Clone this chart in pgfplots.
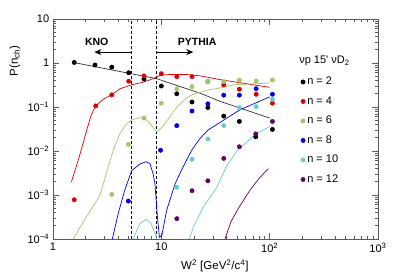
\documentclass[border=0pt]{standalone}
\usepackage{pgfplots}
\pgfplotsset{compat=1.18}
\usepackage{fontspec}
\setmainfont{Liberation Sans}
\usetikzlibrary{arrows.meta}
\definecolor{cred}{RGB}{222,0,0}
\definecolor{cgreen}{RGB}{153,204,102}
\definecolor{cblue}{RGB}{0,0,230}
\definecolor{ccyan}{RGB}{102,204,204}
\definecolor{cpurple}{RGB}{102,0,102}
\definecolor{frame}{RGB}{90,90,90}
\begin{document}
\fontsize{11}{13}\selectfont
\begin{tikzpicture}
\begin{axis}[
  name=ax,
  xmode=log, ymode=log,
  xmin=1, xmax=1000, ymin=1e-4, ymax=10,
  width=325pt, height=220pt, scale only axis,
  xtick={1,10,100,1000},
  xticklabels={1,10,10\textsuperscript{2},10\textsuperscript{3}},
  ytick={1e-4,1e-3,1e-2,1e-1,1,10},
  yticklabels={10\textsuperscript{−4},10\textsuperscript{−3},10\textsuperscript{−2},10\textsuperscript{−1},1,10},
  tick align=inside,
  major tick length=6pt, minor tick length=3pt,
  axis line style={frame, line width=0.8pt},
  every tick/.style={frame, line width=0.6pt},
  tick label style={font=\fontsize{11}{13}\selectfont},
  xlabel={W\textsuperscript{2} [GeV\textsuperscript{2}/c\textsuperscript{4}]},
  ylabel={P(n\textsubscript{ch})},
  xlabel style={at={(axis description cs:0.498,-0.123)}, anchor=center, font=\fontsize{11.5}{13}\selectfont},
  ylabel style={at={(axis description cs:-0.117,0.81)}, anchor=center, font=\fontsize{11.5}{13}\selectfont},
  legend style={draw=none, fill=none, at={(rel axis cs:0.762,0.745)}, anchor=north west,
     row sep=6.2pt, font=\fontsize{11}{13}\selectfont, inner sep=0pt},
  legend cell align=left,
  legend image code/.code={\draw[#1] plot coordinates {(0.12cm,0cm)};},
  clip=true,
]
% dashed separators
\addplot[black, dash pattern=on 3pt off 2pt, line width=0.5pt, forget plot] coordinates {(5.33,1e-4) (5.33,10)};
\addplot[black, dash pattern=on 3pt off 2pt, line width=0.5pt, forget plot] coordinates {(9.0,1e-4) (9.0,10)};

% curves
\addplot[black!80, line width=0.7pt, forget plot] coordinates {
(1.57,1.02) (4.16,0.64) (9.06,0.44) (22.8,0.206) (34.7,0.135) (100,0.056)};
\addplot[cred, line width=0.7pt, forget plot] coordinates {
(1.48,0.002) (1.75,0.0075) (2.05,0.03) (2.25,0.065) (2.44,0.1) (2.9,0.15) (3.49,0.19) (4.16,0.26)
(5.33,0.32) (6.9,0.37) (8.4,0.44) (9.7,0.52) (12,0.55) (17,0.55) (22.8,0.51) (34.7,0.42) (60,0.34) (100,0.28)};
\addplot[cgreen, line width=0.7pt, forget plot] coordinates {
(1.54,1e-4) (2.0,3e-4) (2.4,6e-4) (2.72,1e-3) (3.1,3e-3) (3.6,0.0105) (4.16,0.025) (4.7,0.04)
(5.33,0.051) (6.3,0.057) (7,0.056) (8,0.04) (9.06,0.0275) (10,0.033) (12,0.06) (13.9,0.10)
(17,0.158) (19.2,0.19) (27,0.245) (34.7,0.27) (46,0.32) (100,0.35)};
\addplot[cblue, line width=0.7pt, forget plot] coordinates {
(3.53,1e-4) (4.0,3.8e-4) (4.6,1.3e-3) (5.33,0.0036) (6.3,0.005) (7.2,0.0057) (7.85,0.0052)
(8.4,0.003) (8.73,1.8e-3) (9.2,3.2e-4) (9.6,1.1e-4) (10.1,1.2e-4) (11.2,4.5e-4) (13.4,1.8e-3)
(15.9,4.4e-3) (19.1,0.0105) (22.8,0.0195) (27,0.03) (53,0.086) (100,0.17)};
\addplot[ccyan, line width=0.7pt, forget plot] coordinates {
(5.5,1e-4) (6.3,2.2e-4) (7.2,2.8e-4) (8.0,2.3e-4) (8.8,1.3e-4) (9.06,1e-4)};
\addplot[ccyan, line width=0.7pt, forget plot] coordinates {
(18.1,1e-4) (20,2e-4) (24.5,5.4e-4) (32.5,1.5e-3) (40,4.5e-3) (50.4,0.0105) (74.4,0.024) (100,0.036)};
\addplot[cpurple, line width=0.7pt, forget plot] coordinates {
(38.7,1e-4) (44,2.5e-4) (51.5,5e-4) (66,1.3e-3) (80,2.4e-3) (97.5,4e-3)};

% data points
\addplot[only marks, mark=*, mark size=2.2pt, black] coordinates {
(1.57,1.03) (2.44,0.90) (3.49,0.805) (5.0,0.60) (6.92,0.43) (10,0.30) (13.9,0.20) (19.2,0.13)
(26.9,0.097) (37.7,0.062) (52.5,0.047) (74.4,0.021) (106,0.031)};
\addlegendentry{n = 2}
\addplot[only marks, mark=*, mark size=2.2pt, cred] coordinates {
(1.57,7.8e-4) (2.48,0.106) (3.49,0.189) (5.0,0.386) (6.92,0.51) (10,0.57) (13.9,0.49) (19.2,0.49)
(26.9,0.38) (37.7,0.32) (52.5,0.254) (75,0.195) (106,0.122)};
\addlegendentry{n = 4}
\addplot[only marks, mark=*, mark size=2.2pt, cgreen] coordinates {
(3.49,1.03e-3) (4.96,0.0142) (6.92,0.056) (10,0.122) (13.9,0.26) (19.2,0.29) (26.9,0.38)
(37.7,0.38) (52.5,0.41) (75,0.39) (106,0.41)};
\addlegendentry{n = 6}
\addplot[only marks, mark=*, mark size=2.2pt, cblue] coordinates {
(4.96,7.3e-4) (9.84,0.0104) (13.9,0.0377) (19.2,0.081) (26.9,0.118) (37.7,0.186) (52.5,0.186)
(75,0.26) (106,0.195)};
\addlegendentry{n = 8}
\addplot[only marks, mark=*, mark size=2.2pt, ccyan] coordinates {
(13.9,1.5e-3) (19.2,0.0065) (26.9,0.0188) (37.7,0.0377) (52.5,0.097) (75,0.102) (106,0.15)};
\addlegendentry{n = 10}
\addplot[only marks, mark=*, mark size=2.2pt, cpurple] coordinates {
(13.9,2.9e-4) (19.2,1.25e-3) (26.9,2.1e-3) (37.7,6.8e-3) (52.5,0.0125) (74.4,0.0245) (106,0.047)};
\addlegendentry{n = 12}

% annotations
\node[font=\fontsize{10.5}{12}\selectfont\bfseries] at (axis cs:2.53,3.09) {KNO};
\node[font=\fontsize{10.5}{12}\selectfont\bfseries] at (axis cs:21.4,3.09) {PYTHIA};
\draw[-{Stealth[length=7pt,width=6pt]}, line width=0.8pt] (axis cs:5.33,1.77) -- (axis cs:2.41,1.77);
\draw[-{Stealth[length=7pt,width=6pt]}, line width=0.8pt] (axis cs:9.06,1.77) -- (axis cs:19.7,1.77);
\node[anchor=base west, inner sep=0pt, font=\fontsize{11}{13}\selectfont] at (axis cs:186.8,0.96) {νp 15\textquotesingle{} νD\textsubscript{2}};
\end{axis}
\pgfresetboundingbox
\path (ax.south west) ++(-53pt,-37pt) rectangle ++(407pt,276pt);
\end{tikzpicture}
\end{document}
